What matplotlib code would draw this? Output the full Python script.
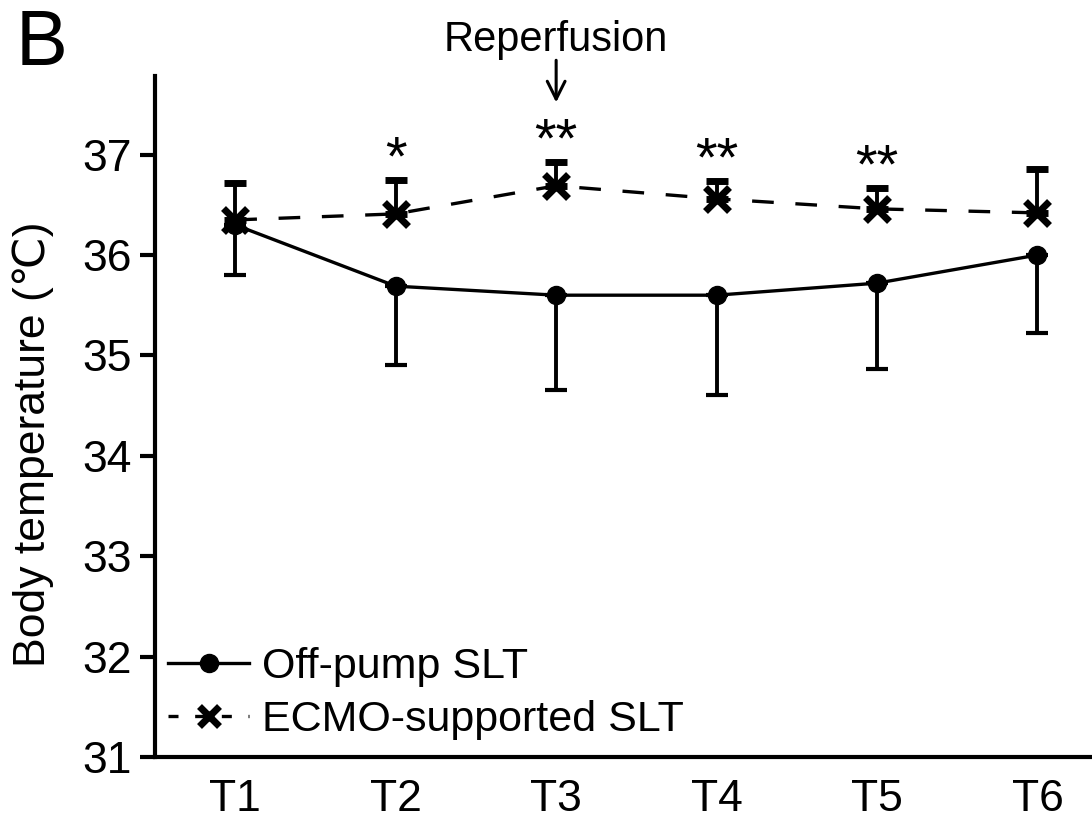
import matplotlib.pyplot as plt
from matplotlib.lines import Line2D
import numpy as np

plt.rcParams['font.family'] = ['Liberation Sans', 'DejaVu Sans']

# data
times = ['T1', 'T2', 'T3', 'T4', 'T5', 'T6']
offpump_mean = [36.30, 35.69, 35.60, 35.60, 35.72, 36.00]
offpump_low = [35.80, 34.90, 34.66, 34.61, 34.86, 35.22]   # lower end of error bar
ecmo_mean = [36.35, 36.41, 36.69, 36.56, 36.46, 36.42]
ecmo_high = [36.72, 36.75, 36.93, 36.74, 36.67, 36.86]     # upper end of error bar
signif = ['', '*', '**', '**', '**', '']
yticks = [31, 32, 33, 34, 35, 36, 37]

x = np.arange(1, len(times) + 1)
off_err = [np.array(offpump_mean) - np.array(offpump_low), np.zeros(len(x))]
ecmo_err = [np.zeros(len(x)), np.array(ecmo_high) - np.array(ecmo_mean)]

fig = plt.figure(figsize=(10.92, 8.21), dpi=100)
ax = fig.add_axes([0.142, 0.078, 0.858, 0.829])

ax.errorbar(x, offpump_mean, yerr=off_err, color='black', lw=2.4,
            marker='o', ms=13, capsize=8, capthick=3, elinewidth=2.8,
            zorder=3)
ax.errorbar(x, ecmo_mean, yerr=ecmo_err, color='black', lw=2.4,
            dashes=(6.5, 6.5), marker='x', ms=17, mew=5,
            capsize=8, capthick=3, elinewidth=2.8, zorder=4)

# significance stars above ECMO error bars
for xi, top, s in zip(x, ecmo_high, signif):
    if s:
        ax.text(xi, top + 0.05, s, ha='center', va='baseline', fontsize=40)

# reperfusion marker at T3
ax.annotate('', xy=(3, 37.52), xytext=(3, 37.94), annotation_clip=False,
            arrowprops=dict(arrowstyle='->', color='black', lw=2.2,
                            mutation_scale=32, shrinkA=0, shrinkB=0))
ax.text(3, 38.03, 'Reperfusion', ha='center', va='baseline', fontsize=30,
        clip_on=False)

ax.set_xlim(0.5, 6.34)
ax.set_ylim(31, 37.78)
ax.set_xticks(x)
ax.set_xticklabels(times)
ax.set_yticks(yticks)
ax.tick_params(axis='x', length=0, labelsize=32, pad=16)
ax.tick_params(axis='y', length=11, width=3, labelsize=32, pad=6)
ax.set_ylabel('Body temperature (℃)', fontsize=32)
ax.yaxis.set_label_coords(-0.108, 0.46)

for side in ['top', 'right']:
    ax.spines[side].set_visible(False)
for side in ['left', 'bottom']:
    ax.spines[side].set_linewidth(3)

handles = [
    Line2D([], [], color='black', lw=2.4, marker='o', ms=13),
    Line2D([], [], color='black', lw=2.4, dashes=(3, 5), marker='x',
           ms=15, mew=5),
]
ax.legend(handles, ['Off-pump SLT', 'ECMO-supported SLT'], loc='lower left',
          frameon=False, fontsize=31, handlelength=1.9, handletextpad=0.3,
          labelspacing=0.3, borderaxespad=0.0, bbox_to_anchor=(-0.005, 0.0))

fig.text(0.014, 0.99, 'B', fontsize=56, ha='left', va='top')

fig.savefig('out.png', dpi=100)
